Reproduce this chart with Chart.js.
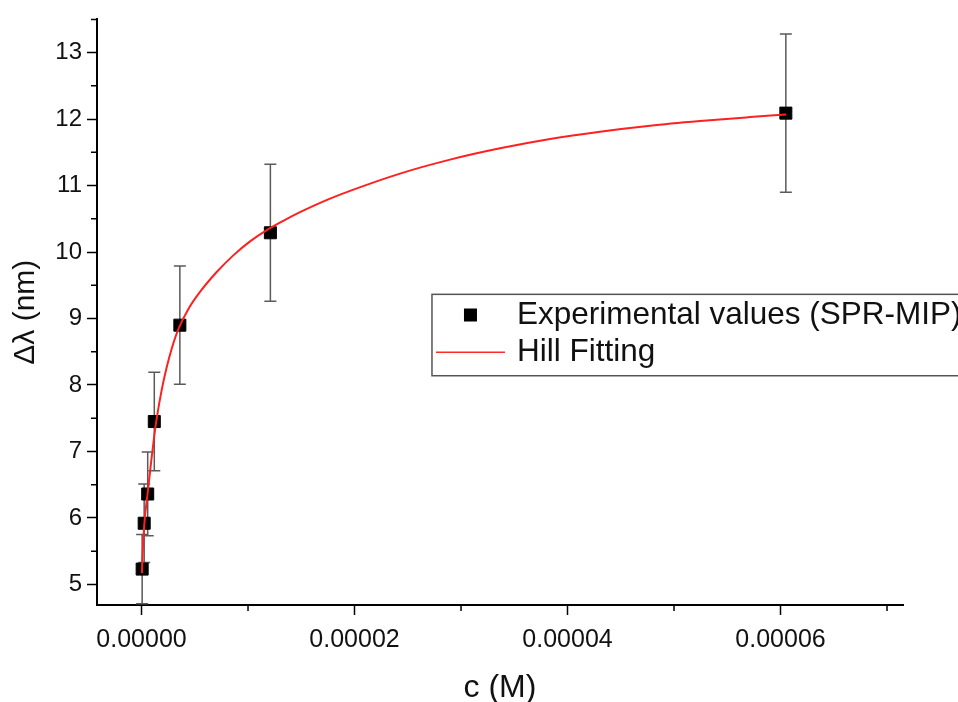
<!DOCTYPE html>
<html>
<head>
<meta charset="utf-8">
<script src="https://cdn.jsdelivr.net/npm/chart.js@4/dist/chart.umd.min.js"></script>
<style>
  html, body { margin: 0; padding: 0; background: #fff; overflow: hidden; }
  #wrap { width: 958px; height: 702px; position: relative; }
</style>
</head>
<body>
<div id="wrap"><canvas id="chart"></canvas></div>
<script>
// Measured SPR-MIP response: concentration (M), wavelength shift (nm) and its error (nm)
const concentration = [6e-8, 2.5e-7, 5.8e-7, 1.2e-6, 3.6e-6, 1.21e-5, 6.05e-5];
const shift = [5.23, 5.92, 6.36, 7.45, 8.90, 10.29, 12.09];
const shiftError = [0.52, 0.59, 0.63, 0.74, 0.89, 1.03, 1.19];

// Hill fitting curve, sampled along its length
const fitConcentration = [
  0.04e-6, 0.10e-6, 0.26e-6, 0.58e-6, 0.90e-6, 1.20e-6, 1.43e-6, 1.90e-6,
  2.37e-6, 2.84e-6, 3.46e-6, 4.39e-6, 5.49e-6, 7.06e-6, 8.62e-6, 10.19e-6,
  11.76e-6, 13.31e-6, 14.88e-6, 17.20e-6, 19.58e-6, 24.27e-6, 28.97e-6,
  33.66e-6, 38.36e-6, 43.05e-6, 47.75e-6, 52.44e-6, 57.14e-6, 60.52e-6
];
const fitShift = [
  5.17, 5.45, 5.90, 6.38, 6.84, 7.24, 7.50, 7.93,
  8.27, 8.55, 8.84, 9.14, 9.40, 9.70, 9.95, 10.16,
  10.33, 10.47, 10.60, 10.77, 10.92, 11.18, 11.39,
  11.56, 11.70, 11.81, 11.90, 11.97, 12.03, 12.07
];

// Axis ticks
const xTicks = [0, 2e-5, 4e-5, 6e-5];
const xMinorTicks = [1e-5, 3e-5, 5e-5, 7e-5];
const yTicks = [5, 6, 7, 8, 9, 10, 11, 12, 13];
const yMinorTicks = [5.5, 6.5, 7.5, 8.5, 9.5, 10.5, 11.5, 12.5, 13.5];

const seriesLabels = ['Experimental values (SPR-MIP)', 'Hill Fitting'];
const axisTitles = { x: 'c (M)', y: 'Δλ (nm)' };

const FONT = "'Liberation Sans', Arial, sans-serif";

// Vertical error bars behind the markers
const errorBars = {
  id: 'errorBars',
  beforeDatasetsDraw(chart) {
    const { ctx, scales: { x, y } } = chart;
    ctx.save();
    ctx.strokeStyle = '#5a5a5a';
    ctx.lineWidth = 1.5;
    concentration.forEach((c, i) => {
      const px = x.getPixelForValue(c);
      const top = y.getPixelForValue(shift[i] + shiftError[i]);
      const bot = y.getPixelForValue(shift[i] - shiftError[i]);
      ctx.beginPath();
      ctx.moveTo(px, top); ctx.lineTo(px, bot);
      ctx.moveTo(px - 6, top); ctx.lineTo(px + 6, top);
      ctx.moveTo(px - 6, bot); ctx.lineTo(px + 6, bot);
      ctx.stroke();
    });
    ctx.restore();
  }
};

// Short outward minor ticks on both axes
const minorTicks = {
  id: 'minorTicks',
  afterDraw(chart) {
    const { ctx, chartArea, scales: { x, y } } = chart;
    ctx.save();
    ctx.strokeStyle = '#000';
    ctx.lineWidth = 1.5;
    ctx.beginPath();
    xMinorTicks.forEach(v => {
      const px = x.getPixelForValue(v);
      ctx.moveTo(px, chartArea.bottom); ctx.lineTo(px, chartArea.bottom + 6);
    });
    yMinorTicks.forEach(v => {
      const py = y.getPixelForValue(v);
      ctx.moveTo(chartArea.left, py); ctx.lineTo(chartArea.left - 6, py);
    });
    ctx.stroke();
    ctx.restore();
  }
};

// Boxed legend placed inside the plot area
const boxedLegend = {
  id: 'boxedLegend',
  afterDraw(chart) {
    const { ctx, chartArea: a } = chart;
    const w = a.right - a.left, h = a.bottom - a.top;
    const left = a.left + 0.4156 * w;
    const top = a.top + 0.4695 * h;
    const boxH = 0.139 * h;
    ctx.save();
    ctx.strokeStyle = '#555';
    ctx.lineWidth = 1.5;
    ctx.strokeRect(left, top, 600, boxH);
    const row1 = top + boxH * 0.26;
    const row2 = top + boxH * 0.71;
    // marker sample
    ctx.fillStyle = '#000';
    ctx.fillRect(left + 32, row1 - 7, 13, 13);
    // line sample
    ctx.strokeStyle = '#ff2a2a';
    ctx.lineWidth = 1.5;
    ctx.beginPath();
    ctx.moveTo(left + 4, row2); ctx.lineTo(left + 73, row2);
    ctx.stroke();
    ctx.fillStyle = '#111';
    ctx.font = '31.5px ' + FONT;
    ctx.textBaseline = 'middle';
    ctx.textAlign = 'left';
    ctx.fillText(seriesLabels[0], left + 85, row1);
    ctx.fillText(seriesLabels[1], left + 85, row2);
    ctx.restore();
  }
};

new Chart(document.getElementById('chart'), {
  data: {
    datasets: [
      {
        type: 'line',
        label: seriesLabels[1],
        data: fitConcentration.map((c, i) => ({ x: c, y: fitShift[i] })),
        borderColor: '#ff2020',
        borderWidth: 2,
        pointRadius: 0,
        fill: false,
        cubicInterpolationMode: 'monotone',
        order: 1
      },
      {
        type: 'scatter',
        label: seriesLabels[0],
        data: concentration.map((c, i) => ({ x: c, y: shift[i] })),
        pointStyle: 'rect',
        pointRadius: 8.5,
        pointBackgroundColor: '#000',
        pointBorderColor: '#000',
        pointBorderWidth: 1,
        showLine: false,
        order: 2
      }
    ]
  },
  options: {
    responsive: true,
    maintainAspectRatio: false,
    animation: false,
    layout: { padding: { top: 15, right: 55, left: 0, bottom: 0 } },
    plugins: {
      legend: { display: false },
      tooltip: { enabled: false }
    },
    scales: {
      x: {
        type: 'linear',
        min: -4.18e-6,
        max: 7.15e-5,
        afterBuildTicks: s => { s.ticks = xTicks.map(v => ({ value: v })); },
        afterFit: s => { s.height = 97; },
        border: { display: true, color: '#000', width: 2 },
        grid: { drawOnChartArea: false, drawTicks: true, tickLength: 10, tickColor: '#000', tickWidth: 1.5 },
        ticks: {
          color: '#111',
          padding: 10,
          maxRotation: 0,
          autoSkip: false,
          font: { family: FONT, size: 25 },
          callback: v => Number(v).toFixed(5)
        },
        title: {
          display: true,
          text: axisTitles.x,
          color: '#111',
          font: { family: FONT, size: 32, lineHeight: 1 },
          padding: { top: 0, bottom: -2 }
        }
      },
      y: {
        type: 'linear',
        min: 4.69,
        max: 13.5,
        afterBuildTicks: s => { s.ticks = yTicks.map(v => ({ value: v })); },
        afterFit: s => { s.width = 97; },
        border: { display: true, color: '#000', width: 2 },
        grid: { drawOnChartArea: false, drawTicks: true, tickLength: 10, tickColor: '#000', tickWidth: 1.5 },
        ticks: {
          color: '#111',
          padding: 5,
          autoSkip: false,
          font: { family: FONT, size: 24 },
          callback: v => String(v)
        },
        title: {
          display: true,
          text: axisTitles.y,
          color: '#111',
          font: { family: FONT, size: 30, lineHeight: 1 },
          padding: { top: 11, bottom: 0 }
        }
      }
    }
  },
  plugins: [errorBars, minorTicks, boxedLegend]
});
</script>
</body>
</html>
